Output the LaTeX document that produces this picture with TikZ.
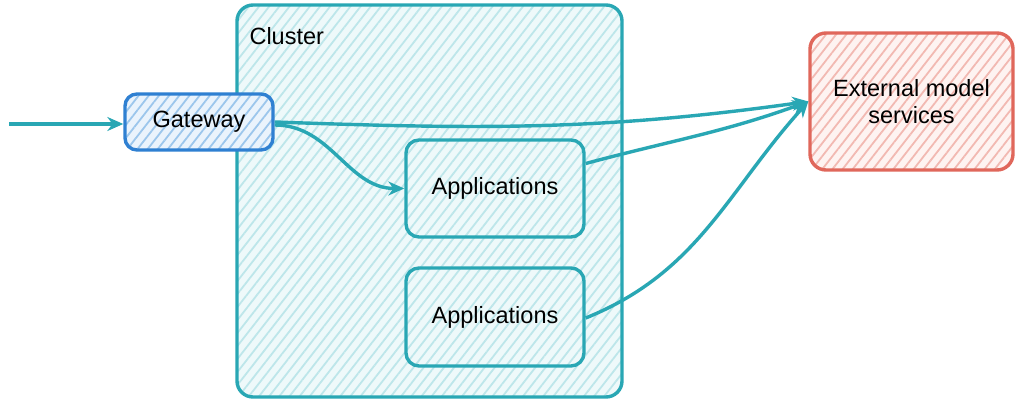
\documentclass[tikz,border=0pt]{standalone}
\usepackage{fontspec}
\setmainfont{Liberation Sans}
\usetikzlibrary{arrows.meta,patterns.meta,calc}
\definecolor{teal1}{HTML}{29A7B4}
\definecolor{tealfill}{HTML}{EEF9FA}
\definecolor{tealhatch}{HTML}{BDE6EA}
\definecolor{blue1}{HTML}{2F80D2}
\definecolor{bluefill}{HTML}{EAF3FC}
\definecolor{bluehatch}{HTML}{9CC6EC}
\definecolor{red1}{HTML}{E0675B}
\definecolor{redfill}{HTML}{FEF3F1}
\definecolor{redhatch}{HTML}{F2B9B2}
\tikzset{
  box/.style={draw, rounded corners=13pt, line width=3.4pt, minimum width=#1},
  hatchbox/.style 2 args={preaction={fill=#1}, pattern={Lines[angle=52,distance=8pt,line width=1.8pt]}, pattern color=#2},
  txt/.style={font=\fontsize{23.5}{27.5}\selectfont, text=black},
  conn/.style={draw=teal1, line width=3.4pt, -{Stealth[length=16pt,width=14pt]}},
}
\begin{document}
\begin{tikzpicture}[x=1pt,y=-1pt]
\useasboundingbox[fill=white] (0,0) rectangle (1024,403);
% cluster
\node[box=385pt, minimum height=392pt, draw=teal1, hatchbox={tealfill}{tealhatch}, rounded corners=16pt] (cluster) at (429.5,201) {};
\node[txt, anchor=west] (clabel) at (246,36) {Cluster};
% applications
\node[box=178pt, minimum height=97pt, draw=teal1, txt] (app1) at (495,188.5) {Applications};
\node[box=178pt, minimum height=98pt, draw=teal1, txt] (app2) at (495,317) {Applications};
% gateway
\node[box=148pt, minimum height=56pt, draw=blue1, hatchbox={bluefill}{bluehatch}, txt, rounded corners=12pt] (gw) at (199,122) {Gateway};
% external
\node[box=203pt, minimum height=137pt, draw=red1, hatchbox={redfill}{redhatch}, txt, align=center, rounded corners=16pt] (ext) at (911.5,101.5) {External model\\services};
% connectors
\coordinate (in) at (9,124);
\draw[conn] (in) -- (gw.west |- in);
\draw[conn] (gw.east) to[out=-2,in=188] (ext.west);
\draw[conn] ([yshift=-3pt]gw.east) to[out=0,in=180] (app1.west);
\draw[conn] ([yshift=25pt]app1.east) to[out=15,in=200] (ext.west);
\draw[conn] ([yshift=-1pt]app2.east) to[out=22,in=228] (ext.west);
\end{tikzpicture}
\end{document}
